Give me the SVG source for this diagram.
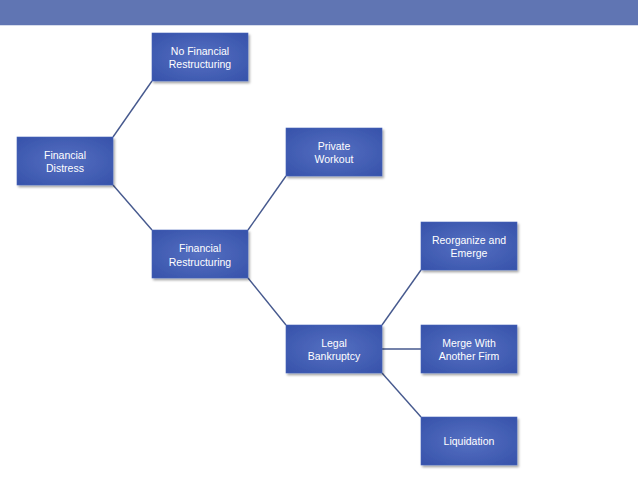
<svg xmlns="http://www.w3.org/2000/svg" width="638" height="479" viewBox="0 0 638 479">
<defs>
<radialGradient id="g" cx="50%" cy="50%" r="70%">
<stop offset="0" stop-color="#5670c2"/>
<stop offset="1" stop-color="#3652aa"/>
</radialGradient>
<filter id="sh" x="-10%" y="-10%" width="130%" height="140%">
<feDropShadow dx="1.5" dy="2" stdDeviation="1.2" flood-color="#000" flood-opacity="0.35"/>
</filter>
</defs>
<style>
.n rect{fill:url(#g);stroke:#4563b8;stroke-width:0.6;filter:url(#sh)}
.n text{fill:#fff;font-family:"Liberation Sans",Arial,sans-serif;font-size:10.5px;text-anchor:middle}
.c line{stroke:#46598e;stroke-width:1.4}
</style>
<rect x="0" y="0" width="638" height="477" fill="#fff"/>
<rect x="0" y="0" width="638" height="25" fill="#6075b3"/>
<line x1="0" y1="25.5" x2="638" y2="25.5" stroke="#d6dcec" stroke-width="1"/>
<g class="c">
<line x1="113" y1="137" x2="152" y2="81"/>
<line x1="113" y1="185" x2="152" y2="230"/>
<line x1="248" y1="230" x2="286" y2="176"/>
<line x1="248" y1="278" x2="286" y2="325"/>
<line x1="382" y1="325" x2="421" y2="270"/>
<line x1="382" y1="349" x2="421" y2="349"/>
<line x1="382" y1="373" x2="421" y2="417"/>
</g>
<g id="n1" class="n"><rect x="17" y="137" width="96" height="48"/><text x="65" y="159">Financial</text><text x="65" y="172">Distress</text></g>
<g id="n2" class="n"><rect x="152" y="33" width="96" height="48"/><text x="200" y="55">No Financial</text><text x="200" y="68">Restructuring</text></g>
<g id="n3" class="n"><rect x="152" y="230" width="96" height="48"/><text x="200" y="252">Financial</text><text x="200" y="266">Restructuring</text></g>
<g id="n4" class="n"><rect x="286" y="128" width="96" height="48"/><text x="334" y="150">Private</text><text x="334" y="163">Workout</text></g>
<g id="n5" class="n"><rect x="286" y="325" width="96" height="48"/><text x="334" y="347">Legal</text><text x="334" y="360">Bankruptcy</text></g>
<g id="n6" class="n"><rect x="421" y="222" width="96" height="48"/><text x="469" y="244">Reorganize and</text><text x="469" y="257">Emerge</text></g>
<g id="n7" class="n"><rect x="421" y="325" width="96" height="48"/><text x="469" y="347">Merge With</text><text x="469" y="360">Another Firm</text></g>
<g id="n8" class="n"><rect x="421" y="417" width="96" height="48"/><text x="469" y="445">Liquidation</text></g>
</svg>
